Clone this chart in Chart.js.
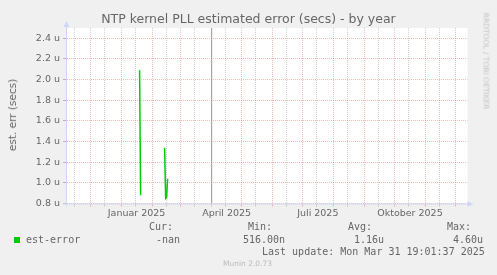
<!DOCTYPE html>
<html>
<head>
<meta charset="utf-8">
<script src="https://cdn.jsdelivr.net/npm/chart.js@4/dist/chart.umd.min.js"></script>
<style>
  html, body { margin:0; padding:0; background:#f0f0f0; }
  #wrap { position:relative; width:497px; height:275px; overflow:hidden; background:#f0f0f0; }
  #c { position:absolute; left:0; top:0; }
  .t { position:absolute; white-space:pre; color:#666; }
  .sans { font-family:"DejaVu Sans", sans-serif; }
  .mono { font-family:"DejaVu Sans Mono", monospace; font-size:10px; line-height:12px; }
</style>
</head>
<body>
<div id="wrap">
  <canvas id="c" width="497" height="275"></canvas>
  <div class="t sans" id="title" style="left:0;width:497px;text-align:center;top:11px;font-size:12.5px;line-height:15px;">NTP kernel PLL estimated error (secs) - by year</div>
  <div class="t sans" id="ytitle" style="left:12px;top:115px;font-size:10.5px;line-height:12px;transform:translate(-50%,-50%) rotate(-90deg);">est. err (secs)</div>
  <div class="t sans" style="left:486px;top:61px;font-size:7.5px;line-height:9px;color:#c4c4c4;transform:translate(-50%,-50%) rotate(90deg);">RRDTOOL / TOBI OETIKER</div>

  <div class="t mono" style="left:149px;top:221px;">Cur:</div>
  <div class="t mono" style="left:248px;top:221px;">Min:</div>
  <div class="t mono" style="left:348px;top:221px;">Avg:</div>
  <div class="t mono" style="left:447px;top:221px;">Max:</div>

  <div style="position:absolute;left:14px;top:237px;width:6px;height:6px;background:#00cc00;"></div>
  <div class="t mono" style="left:26px;top:234px;">est-error</div>
  <div class="t mono" style="left:156px;top:234px;">-nan</div>
  <div class="t mono" style="left:243px;top:234px;">516.00n</div>
  <div class="t mono" style="left:354px;top:234px;">1.16u</div>
  <div class="t mono" style="left:453px;top:234px;">4.60u</div>

  <div class="t mono" style="left:262px;top:246px;">Last update: Mon Mar 31 19:01:37 2025</div>
  <div class="t sans" style="left:223px;top:259px;font-size:7.5px;line-height:9px;color:#bbbbbb;">Munin 2.0.73</div>
</div>
<script>
// ---- data (values in micro-seconds) ----
const rangeStart = '2024-11-07T12:00:00Z';
const rangeEnd   = '2025-12-12T12:00:00Z';
const dates    = ['2025-01-19', '2025-01-20', '2025-01-21', '2025-02-13', '2025-02-14', '2025-02-15', '2025-02-16'];
const estError = [2.09,         0.88,         null,         1.34,         0.85,         0.86,         1.04];
const nowDate  = '2025-04-01';
const yMin = 0.8, yMax = 2.5, yStep = 0.1;
const monthStarts = ['2024-12-01','2025-01-01','2025-02-01','2025-03-01','2025-04-01','2025-05-01','2025-06-01',
                     '2025-07-01','2025-08-01','2025-09-01','2025-10-01','2025-11-01','2025-12-01'];
const midMonths   = ['2024-11-15','2024-12-15','2025-01-15','2025-02-15','2025-03-15','2025-04-15','2025-05-15',
                     '2025-06-15','2025-07-15','2025-08-15','2025-09-15','2025-10-15','2025-11-15'];
const labelDates  = ['2025-01-16','2025-04-16','2025-07-16','2025-10-16'];
const labelTexts  = ['Januar 2025','April 2025','Juli 2025','Oktober 2025'];

// ---- helpers ----
const day = s => Date.parse(s.length === 10 ? s + 'T00:00:00Z' : s) / 86400000;
const xMin = day(rangeStart), xMax = day(rangeEnd);
const series = dates.map((d, i) => ({ x: day(d), y: estError[i] }));
const nowSeries = [{ x: day(nowDate), y: yMin }, { x: day(nowDate), y: yMax }];

const majorSet = new Set(monthStarts.map(day));
const minorSet = new Set(midMonths.map(day));
const labelMap = new Map(labelDates.map((d, i) => [day(d), labelTexts[i]]));
const xTicks = [...monthStarts, ...midMonths, ...labelDates].map(day).filter(v => v >= xMin && v <= xMax).sort((a,b)=>a-b);

const MGRID = 'rgba(222,79,79,0.38)';
const GRID  = 'rgba(143,143,143,0.42)';
const AXIS  = '#CFD6F8';

const isMajorY = v => Math.round(v * 10) % 2 === 0;

const arrows = {
  id: 'arrows',
  afterDraw(chart) {
    const { ctx, chartArea: a } = chart;
    ctx.save();
    ctx.strokeStyle = AXIS; ctx.fillStyle = AXIS; ctx.lineWidth = 1;
    ctx.beginPath();
    ctx.moveTo(a.left - 0.5, a.bottom + 3); ctx.lineTo(a.left - 0.5, a.top - 4);
    ctx.moveTo(a.left - 4, a.bottom + 0.5); ctx.lineTo(a.right + 3, a.bottom + 0.5);
    ctx.stroke();
    ctx.beginPath();
    ctx.moveTo(a.left - 0.5, a.top - 7); ctx.lineTo(a.left - 3.5, a.top - 1); ctx.lineTo(a.left + 2.5, a.top - 1); ctx.closePath(); ctx.fill();
    ctx.beginPath();
    ctx.moveTo(a.right + 6, a.bottom + 0.5); ctx.lineTo(a.right, a.bottom - 2.5); ctx.lineTo(a.right, a.bottom + 3.5); ctx.closePath(); ctx.fill();
    ctx.restore();
  }
};

const canvasBg = {
  id: 'canvasBg',
  beforeDraw(chart) {
    const { ctx, chartArea: a } = chart;
    ctx.save(); ctx.fillStyle = '#ffffff';
    ctx.fillRect(a.left, a.top, a.right - a.left, a.bottom - a.top);
    ctx.restore();
  }
};

new Chart(document.getElementById('c'), {
  type: 'line',
  data: {
    datasets: [
      { data: series, borderColor: '#00cc00', borderWidth: 1.5, pointRadius: 0, spanGaps: false, tension: 0 },
      { data: nowSeries, borderColor: '#999999', borderWidth: 1, pointRadius: 0, tension: 0 }
    ]
  },
  options: {
    responsive: false, animation: false, devicePixelRatio: 1,
    layout: { padding: { left: 0, top: 28, right: 29.5, bottom: 51.5 } },
    plugins: { legend: { display: false }, tooltip: { enabled: false }, title: { display: false } },
    scales: {
      x: {
        type: 'linear', min: xMin, max: xMax,
        afterBuildTicks: s => { s.ticks = xTicks.map(v => ({ value: v })); },
        afterFit: s => { s.height = 20; },
        ticks: {
          autoSkip: false, maxRotation: 0, minRotation: 0, padding: 1,
          color: '#666', font: { family: 'DejaVu Sans', size: 9.5 },
          callback: v => labelMap.get(v) || ''
        },
        grid: {
          lineWidth: 1, tickLength: 3,
          color: c => majorSet.has(c.tick.value) ? MGRID : (minorSet.has(c.tick.value) ? GRID : 'rgba(0,0,0,0)'),
          tickColor: c => majorSet.has(c.tick.value) ? MGRID : (minorSet.has(c.tick.value) ? GRID : 'rgba(0,0,0,0)')
        },
        border: { display: false, dash: [1, 1] }
      },
      y: {
        min: yMin, max: yMax,
        afterFit: s => { s.width = 67; },
        ticks: {
          stepSize: yStep, padding: 3, color: '#666', font: { family: 'DejaVu Sans', size: 9.5 },
          callback: v => isMajorY(v) ? (Math.round(v * 10) / 10).toFixed(1) + ' u' : ''
        },
        grid: {
          lineWidth: 1, tickLength: 4,
          color: c => isMajorY(c.tick.value) ? MGRID : GRID,
          tickColor: c => isMajorY(c.tick.value) ? 'rgba(120,120,120,0.5)' : 'rgba(0,0,0,0)'
        },
        border: { display: false, dash: [1, 1] }
      }
    }
  },
  plugins: [canvasBg, arrows]
});
</script>
</body>
</html>
